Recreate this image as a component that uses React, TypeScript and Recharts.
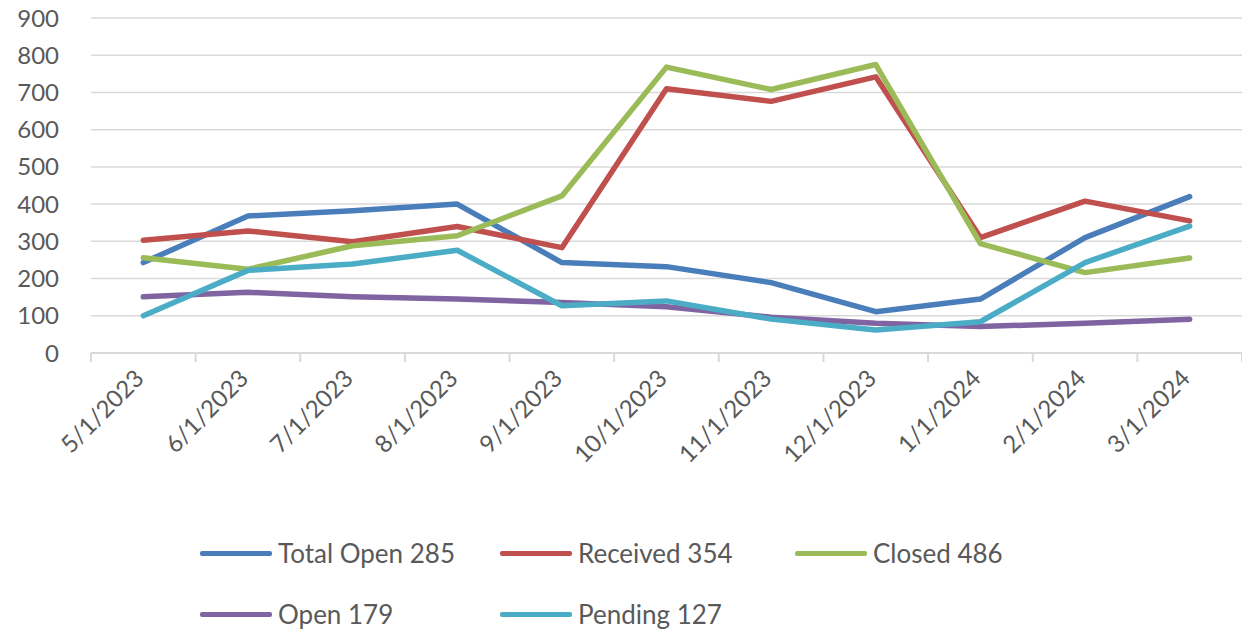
import React from "react";
import { LineChart, Line, XAxis, YAxis, CartesianGrid, Legend } from "recharts";

const months = [
  "5/1/2023", "6/1/2023", "7/1/2023", "8/1/2023", "9/1/2023", "10/1/2023",
  "11/1/2023", "12/1/2023", "1/1/2024", "2/1/2024", "3/1/2024",
];
const totalOpen = [243, 368, 382, 400, 243, 232, 189, 111, 145, 310, 420];
const received = [303, 328, 299, 340, 283, 710, 676, 742, 310, 408, 355];
const closed = [256, 225, 288, 315, 422, 768, 708, 775, 294, 216, 255];
const open = [151, 163, 151, 145, 136, 124, 96, 80, 71, 80, 91];
const pending = [100, 222, 239, 276, 127, 140, 91, 62, 84, 243, 341];
const yTicks = [0, 100, 200, 300, 400, 500, 600, 700, 800, 900];

const series = [
  { key: "totalOpen", name: "Total Open 285", color: "#4a7ebb" },
  { key: "received", name: "Received 354", color: "#c0504d" },
  { key: "closed", name: "Closed 486", color: "#9bbb59" },
  { key: "open", name: "Open 179", color: "#8064a2" },
  { key: "pending", name: "Pending 127", color: "#4bacc6" },
];

const data = months.map((m, i) => ({
  month: m,
  totalOpen: totalOpen[i],
  received: received[i],
  closed: closed[i],
  open: open[i],
  pending: pending[i],
}));

const W = 1242;
const H = 632;
const PLOT_LEFT = 91;
const STEP = (W - PLOT_LEFT) / months.length;
const FONT = "Lato, 'Noto Sans', sans-serif";
const TEXT = "#595959";

function MonthTick({ x, y, payload, index }: any) {
  const left = x - STEP / 2;
  const ax = x + 2;
  const ay = y + 27;
  return (
    <g>
      <line x1={left} y1={y} x2={left} y2={y + 9} stroke="#d9d9d9" strokeWidth={2} />
      {index === months.length - 1 && (
        <line x1={x + STEP / 2} y1={y} x2={x + STEP / 2} y2={y + 9} stroke="#d9d9d9" strokeWidth={2} />
      )}
      <text
        x={ax}
        y={ay}
        textAnchor="end"
        transform={`rotate(-45 ${ax} ${ay})`}
        fill={TEXT}
        fontSize={24}
        fontFamily={FONT}
      >
        {payload.value}
      </text>
    </g>
  );
}

function ChartLegend() {
  return (
    <div style={{ paddingLeft: 200, paddingTop: 26, fontFamily: FONT, fontSize: 26, color: TEXT }}>
      <div style={{ display: "grid", gridTemplateColumns: "300px 295px 300px", rowGap: 31 }}>
        {series.map((s) => (
          <div key={s.key} style={{ display: "flex", alignItems: "center", height: 30 }}>
            <div style={{ width: 72, height: 5, background: s.color, borderRadius: 2, marginRight: 6 }} />
            <span>{s.name}</span>
          </div>
        ))}
      </div>
    </div>
  );
}

export default function App() {
  return (
    <div style={{ position: "absolute", left: 0, top: 0, width: W, height: H, background: "#fff" }}>
      <LineChart width={W} height={H} data={data} margin={{ top: 18, right: 0, bottom: 0, left: 0 }}>
        <CartesianGrid vertical={false} stroke="#d9d9d9" strokeWidth={1.5} />
        <XAxis
          dataKey="month"
          interval={0}
          height={159}
          tickSize={0}
          tickMargin={0}
          padding={{ left: STEP / 2, right: STEP / 2 }}
          axisLine={{ stroke: "#d9d9d9", strokeWidth: 2 }}
          tick={<MonthTick />}
        />
        <YAxis
          width={PLOT_LEFT}
          domain={[0, 900]}
          ticks={yTicks}
          interval={0}
          axisLine={false}
          tickLine={false}
          tickSize={0}
          tickMargin={32}
          tick={{ fill: TEXT, fontSize: 24, fontFamily: FONT }}
        />
        <Legend verticalAlign="bottom" wrapperStyle={{ height: 120 }} content={<ChartLegend />} />
        {series.map((s) => (
          <Line
            key={s.key}
            type="linear"
            dataKey={s.key}
            name={s.name}
            stroke={s.color}
            strokeWidth={5.5}
            strokeLinejoin="round"
            strokeLinecap="round"
            dot={false}
            isAnimationActive={false}
          />
        ))}
      </LineChart>
    </div>
  );
}
